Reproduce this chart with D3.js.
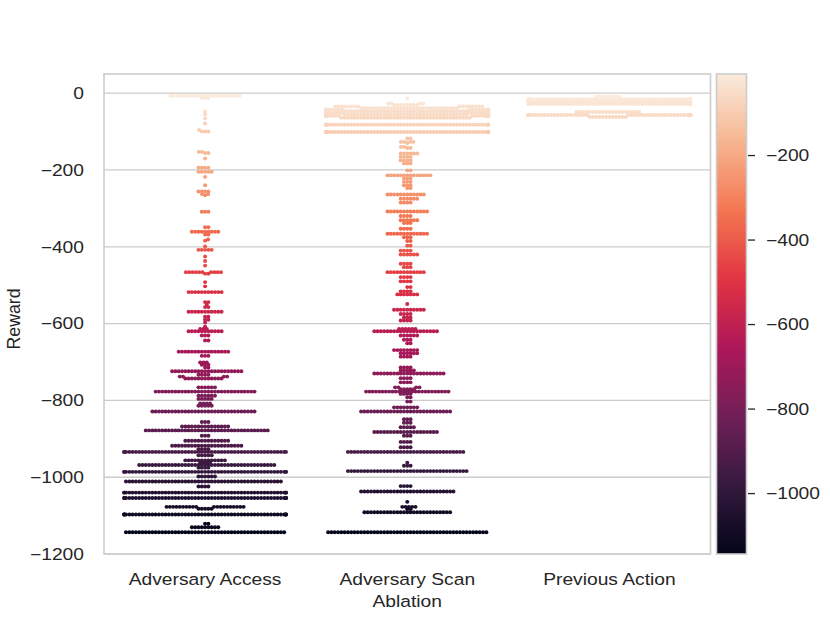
<!DOCTYPE html>
<html><head><meta charset="utf-8">
<script src="https://cdn.jsdelivr.net/npm/d3@7"></script>
<style>
body{margin:0;background:#fff}
text{font-family:"Liberation Sans",Arial,sans-serif;fill:#262626}
</style>
</head><body>
<svg id="c" width="830" height="623"></svg>
<script>
// ---------------- data (reward value, number of episodes at that value) ----------------
const categories = ["Adversary Access", "Adversary Scan", "Previous Action"];

const accessLevels = [
  [-7,22],[-13,3],[-48,1],[-55,1],[-66,1],[-79,1],[-96,1],[-100,3],[-153,2],[-156,2],[-170,1],
  [-194,4],[-205,5],[-218,1],[-240,1],[-256,4],[-263,2],[-266,1],[-309,3],[-349,2],[-361,9],
  [-368,2],[-381,1],[-384,1],[-399,1],[-408,5],[-425,1],[-437,1],[-449,1],[-466,10],[-470,2],
  [-492,1],[-503,1],[-518,11],[-544,2],[-551,1],[-557,2],[-569,11],[-582,2],[-590,2],[-597,1],
  [-608,1],[-614,3],[-620,11],[-631,3],[-644,2],[-673,16],[-684,3],[-701,3],[-707,3],[-714,2],
  [-724,22],[-733,4],[-738,4],[-743,12],[-766,6],[-777,31],[-788,6],[-796,5],[-808,4],[-814,5],
  [-829,32],[-856,3],[-868,15],[-878,38],[-892,3],[-905,14],[-918,22],[-927,4],[-934,52],[-943,5],
  [-956,13],[-962,4],[-968,42],[-975,4],[-986,53],[-998,6],[-1011,48],[-1024,4],[-1040,54],
  [-1054,54],[-1077,20],[-1082,5],[-1097,55],[-1121,2],[-1130,9],[-1143,49]
];

const scanLevels = [
  [-14,1],[-27,4],[-31,8],[-35,16],[-39,30],[-43,40],[-47,40],[-51,40],[-55,40],[-59,40],[-64,40],
  [-82,60],[-101,60],
  [-118,2],[-127,4],[-130,1],[-140,2],[-143,2],[-157,6],[-166,4],[-175,4],[-183,3],[-201,2],
  [-214,14],[-222,3],[-231,3],[-240,3],[-247,2],[-264,12],[-275,6],[-285,4],[-308,13],[-320,4],
  [-331,6],[-338,3],[-353,4],[-366,13],[-375,3],[-385,2],[-397,2],[-410,4],[-420,6],[-444,4],
  [-453,3],[-466,12],[-479,4],[-490,4],[-505,2],[-516,4],[-524,7],[-549,1],[-564,10],[-575,4],
  [-584,3],[-592,4],[-614,6],[-620,20],[-631,6],[-642,3],[-651,2],[-669,8],[-677,6],[-686,4],
  [-714,4],[-722,5],[-730,22],[-742,4],[-753,4],[-766,4],[-771,5],[-777,26],[-783,4],[-792,2],
  [-803,2],[-818,8],[-829,28],[-849,3],[-858,3],[-870,5],[-882,20],[-892,3],[-908,4],[-922,4],
  [-934,36],[-962,1],[-970,3],[-984,37],[-1023,4],[-1037,29],[-1064,1],[-1077,5],[-1083,2],
  [-1091,27],[-1143,49]
];

const prevLevels = [
  [-9,8],[-16,55],[-22,60],[-28,55],[-49,20],[-57,65],[-62,12]
];

const yTicks = [0, -200, -400, -600, -800, -1000, -1200];
const cbarTicks = [-200, -400, -600, -800, -1000];
const rocketStops = ["#03051a","#35193e","#701f57","#ad1759","#e13342","#f37651","#f6b48f","#faebdd"];

// ---------------- layout ----------------
const SX = 1.18;          // horizontal stretch of the reference picture
const FS = 16.3;          // font size
const R = 1.33;           // swarm point radius (unstretched px)
const plot = {left:104, right:710.5, top:74, bottom:554};
const cbar = {left:716.5, width:30};
const svg = d3.select("#c");

const series = [accessLevels, scanLevels, prevLevels].map(lv => lv.flatMap(([v,n]) => Array(n).fill(v)));
const [vmin, vmax] = d3.extent(series.flat());
const pad = 0.05 * (vmax - vmin);

const y = d3.scaleLinear().domain([vmin - pad, vmax + pad]).range([plot.bottom, plot.top]);
const x = d3.scaleBand().domain(categories).range([plot.left, plot.right]).padding(0);
const color = d3.scaleLinear()
  .domain(rocketStops.map((_, i) => vmin + (vmax - vmin) * i / (rocketStops.length - 1)))
  .range(rocketStops).interpolate(d3.interpolateRgb);

function stretchedText(g, tx, ty, str, anchor) {
  return g.append("text").attr("transform", `translate(${tx},${ty}) scale(${SX},1)`)
    .attr("font-size", FS).attr("text-anchor", anchor).text(str);
}

// grid
svg.append("g").selectAll("line").data(yTicks).join("line")
  .attr("x1", plot.left).attr("x2", plot.right)
  .attr("y1", d => y(d)).attr("y2", d => y(d))
  .attr("stroke", "#cccccc").attr("stroke-width", 1.3);

// beeswarm (seaborn-like)
function beeswarm(vals) {
  const D = 2 * R;
  const pts = vals.map(v => ({v, y: y(v)})).sort((a, b) => a.v - b.v);
  const placed = [];
  for (const p of pts) {
    const nb = [];
    for (let k = placed.length - 1; k >= 0; k--) {
      const q = placed[k];
      if (q.y - p.y < D) nb.push(q); else break;
    }
    let ox = 0;
    if (nb.length) {
      const cands = [0];
      for (const q of nb) {
        const dy = q.y - p.y;
        const dx = Math.sqrt(Math.max(D * D - dy * dy, 0)) * 1.05;
        cands.push(q.ox + dx, q.ox - dx);
      }
      cands.sort((a, b) => Math.abs(a) - Math.abs(b));
      for (const c of cands) {
        let ok = true;
        for (const q of nb) {
          const dx = q.ox - c, dy = q.y - p.y;
          if (dx * dx + dy * dy < D * D - 1e-9) { ok = false; break; }
        }
        if (ok) { ox = c; break; }
      }
    }
    p.ox = ox;
    placed.push(p);
  }
  return placed;
}

const hw = 0.4 * x.bandwidth();
categories.forEach((cat, i) => {
  const cx = x(cat) + x.bandwidth() / 2;
  const pts = beeswarm(series[i]);
  svg.append("g").selectAll("ellipse").data(pts).join("ellipse")
    .attr("cx", d => cx + Math.max(-hw, Math.min(hw, d.ox * SX)))
    .attr("cy", d => d.y)
    .attr("rx", 2.0).attr("ry", 1.95)
    .attr("fill", d => color(d.v));
});

// frame
svg.append("rect").attr("x", plot.left).attr("y", plot.top)
  .attr("width", plot.right - plot.left).attr("height", plot.bottom - plot.top)
  .attr("fill", "none").attr("stroke", "#cccccc").attr("stroke-width", 1.6);

// y tick labels
const gy = svg.append("g");
yTicks.forEach(t => stretchedText(gy, 84, y(t) + 5.8, d3.format("d")(t).replace("-", "\u2212"), "end"));

// category labels
const gx = svg.append("g");
categories.forEach(c => stretchedText(gx, x(c) + x.bandwidth() / 2, 585, c, "middle"));

// axis titles
stretchedText(svg, (plot.left + plot.right) / 2, 606.5, "Ablation", "middle");
svg.append("text")
  .attr("transform", `translate(20,${(plot.top + plot.bottom) / 2 + 5}) rotate(-90)`)
  .attr("font-size", 18).attr("text-anchor", "middle")
  .attr("textLength", 61).attr("lengthAdjust", "spacingAndGlyphs")
  .text("Reward");

// colorbar
const cy = d3.scaleLinear().domain([vmin, vmax]).range([plot.bottom, plot.top]);
const grad = svg.append("defs").append("linearGradient").attr("id", "cb")
  .attr("x1", 0).attr("y1", 1).attr("x2", 0).attr("y2", 0);
d3.range(0, 1.0001, 0.02).forEach(f => {
  grad.append("stop").attr("offset", f).attr("stop-color", color(vmin + f * (vmax - vmin)));
});
svg.append("rect").attr("x", cbar.left).attr("y", cy(vmax)).attr("width", cbar.width)
  .attr("height", cy(vmin) - cy(vmax)).attr("fill", "url(#cb)")
  .attr("stroke", "#cccccc").attr("stroke-width", 1.6);
const gc = svg.append("g");
cbarTicks.forEach(t => {
  gc.append("line").attr("x1", cbar.left + cbar.width + 1.5).attr("x2", cbar.left + cbar.width + 8.5)
    .attr("y1", cy(t)).attr("y2", cy(t)).attr("stroke", "#262626").attr("stroke-width", 1.3);
  stretchedText(gc, 766, cy(t) + 5.8, d3.format("d")(t).replace("-", "\u2212"), "start");
});
</script>
</body></html>
